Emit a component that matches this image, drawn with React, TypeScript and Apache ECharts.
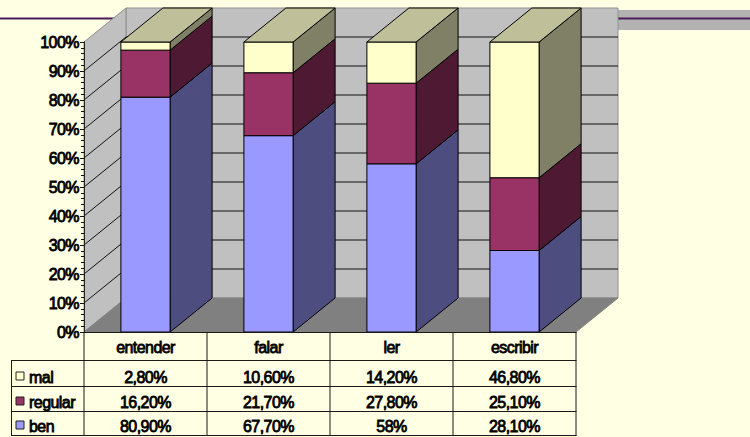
import React, { useEffect, useRef } from "react";
import * as echarts from "echarts";

const categories = ["entender", "falar", "ler", "escribir"];
const seriesNames = ["ben", "regular", "mal"];
const ben = [80.9, 67.7, 58, 28.1];
const regular = [16.2, 21.7, 27.8, 25.1];
const mal = [2.8, 10.6, 14.2, 46.8];
const benLabels = ["80,90%", "67,70%", "58%", "28,10%"];
const regularLabels = ["16,20%", "21,70%", "27,80%", "25,10%"];
const malLabels = ["2,80%", "10,60%", "14,20%", "46,80%"];
const ticks = [0, 10, 20, 30, 40, 50, 60, 70, 80, 90, 100];

const BG = "#ffffe3";
const DX = 42;
const DY = -34;
const FONT = "Liberation Sans, Arial, sans-serif";
const FONT_SIZE = 16;
const HEAVY = 0.8;

const palette = [
  { front: "#9999ff", side: "#4d4d80", top: "#7a7acc" },
  { front: "#993366", side: "#4d1933", top: "#7a2952" },
  { front: "#ffffcc", side: "#808066", top: "#bfbf99" },
];

const rows = [
  { name: "mal", color: palette[2].front, labels: malLabels, y: 377, key: 376 },
  { name: "regular", color: palette[1].front, labels: regularLabels, y: 402, key: 401 },
  { name: "ben", color: palette[0].front, labels: benLabels, y: 426, key: 425 },
];

const GRID = { left: 84, top: 42, width: 492, height: 290 };

function stackedSegments(index: number) {
  const all = [ben, regular, mal];
  return categories.map((_, c) => {
    const total = ben[c] + regular[c] + mal[c];
    let start = 0;
    for (let s = 0; s < index; s++) start += all[s][c];
    return [c, (start / total) * 100, ((start + all[index][c]) / total) * 100];
  });
}

const textBold = { fontFamily: FONT, fontSize: FONT_SIZE, fill: "#000", stroke: "#000", lineWidth: HEAVY };

function buildOption() {
  const wallSeries = {
    type: "custom",
    name: "walls",
    silent: true,
    z: 1,
    coordinateSystem: "cartesian2d",
    data: ticks.map((t) => [0, t]),
    clip: false,
    renderItem: (params: any, api: any) => {
      const tick = api.value(1);
      const [x0, y] = api.coord([0, tick]);
      const size = api.size([1, 0]);
      const left = x0 - size[0] / 2;
      const right = left + size[0] * categories.length;
      const children: any[] = [];
      if (params.dataIndex === 0) {
        const top = api.coord([0, 100])[1];
        const wallStyle = { fill: "#c0c0c0", stroke: "#909090", lineWidth: 1 };
        children.push({
          type: "polygon",
          shape: { points: [[left + DX, y + DY], [right + DX, y + DY], [right + DX, top + DY], [left + DX, top + DY]] },
          style: wallStyle,
        });
        children.push({
          type: "polygon",
          shape: { points: [[left, y], [left + DX, y + DY], [left + DX, top + DY], [left, top]] },
          style: wallStyle,
        });
        children.push({
          type: "polygon",
          shape: { points: [[left, y], [right, y], [right + DX, y + DY], [left + DX, y + DY]] },
          style: { fill: "#808080", stroke: "#808080", lineWidth: 1 },
        });
        return { type: "group", children };
      }
      if (tick < 100) {
        children.push({
          type: "polyline",
          shape: { points: [[left, y], [left + DX, y + DY], [right + DX, y + DY]] },
          style: { fill: "none", stroke: "#111", lineWidth: 1 },
        });
      }
      return { type: "group", children };
    },
  };

  const barSeries = seriesNames.map((name, index) => ({
    type: "custom",
    name,
    z: 2 + index,
    coordinateSystem: "cartesian2d",
    clip: false,
    data: stackedSegments(index),
    renderItem: (_: any, api: any) => {
      const c = api.value(0);
      const [cx, y0] = api.coord([c, api.value(1)]);
      const y1 = api.coord([c, api.value(2)])[1];
      const w = api.size([1, 0])[0] * 0.4;
      const l = cx - w / 2;
      const r = cx + w / 2;
      const line = { stroke: "#000", lineWidth: 1, lineJoin: "round" };
      const colors = palette[index];
      const children: any[] = [
        {
          type: "polygon",
          shape: { points: [[r, y0], [r + DX, y0 + DY], [r + DX, y1 + DY], [r, y1]] },
          style: { fill: colors.side, ...line },
        },
        { type: "rect", shape: { x: l, y: y1, width: w, height: y0 - y1 }, style: { fill: colors.front, ...line } },
      ];
      if (index === seriesNames.length - 1) {
        children.push({
          type: "polygon",
          shape: { points: [[l, y1], [r, y1], [r + DX, y1 + DY], [l + DX, y1 + DY]] },
          style: { fill: colors.top, ...line },
        });
      }
      return { type: "group", children };
    },
  }));

  const cols = [84, 207, 330, 453, 576];
  const tableLines: any[] = [];
  const hLine = (x1: number, x2: number, y: number) =>
    tableLines.push({ type: "line", z: 20, shape: { x1, y1: y, x2, y2: y }, style: { stroke: "#1a1a1a", lineWidth: 1 }, silent: true });
  const vLine = (x: number, y1: number, y2: number) =>
    tableLines.push({ type: "line", z: 20, shape: { x1: x, y1, x2: x, y2 }, style: { stroke: "#1a1a1a", lineWidth: 1 }, silent: true });
  hLine(84, 576.5, 332.5);
  hLine(11, 576.5, 360.5);
  hLine(11, 576.5, 386.5);
  hLine(11, 576.5, 411.5);
  hLine(11, 576.5, 435.5);
  cols.forEach((x) => vLine(x, 332, 436));
  vLine(11.5, 360, 436);

  const tableTexts: any[] = [];
  rows.forEach((row) => {
    tableTexts.push({
      type: "rect", z: 21, silent: true,
      shape: { x: 16, y: row.key - 4, width: 8, height: 8 },
      style: { fill: row.color, stroke: "#222", lineWidth: 1 },
    });
    tableTexts.push({
      type: "text", z: 21, silent: true, x: 29, y: row.y,
      style: { text: row.name, textAlign: "left", textVerticalAlign: "middle", ...textBold },
    });
    row.labels.forEach((label, i) => {
      tableTexts.push({
        type: "text", z: 21, silent: true, x: (cols[i] + cols[i + 1]) / 2, y: row.y,
        style: { text: label, textAlign: "center", textVerticalAlign: "middle", ...textBold },
      });
    });
  });

  const decor: any[] = [
    { type: "rect", z: -2, silent: true, shape: { x: 618, y: 10, width: 132, height: 20 }, style: { fill: "#b2b2b2" } },
    { type: "rect", z: -1, silent: true, shape: { x: 618, y: 17.5, width: 132, height: 2 }, style: { fill: "#4a1a5a" } },
    { type: "rect", z: -1, silent: true, shape: { x: 0, y: 17.5, width: 116, height: 2 }, style: { fill: "#4a1a5a" } },
  ];

  return {
    animation: false,
    backgroundColor: BG,
    grid: { ...GRID, containLabel: false },
    xAxis: {
      type: "category",
      data: categories,
      z: 10,
      axisLine: { show: false },
      axisTick: { show: false },
      axisLabel: {
        margin: 7,
        fontFamily: FONT,
        fontSize: FONT_SIZE,
        color: "#000",
        textBorderColor: "#000",
        textBorderWidth: HEAVY,
      },
    },
    yAxis: {
      type: "value",
      min: 0,
      max: 100,
      interval: 10,
      z: 10,
      splitLine: { show: false },
      axisLine: { show: true, lineStyle: { color: "#222", width: 1 } },
      axisTick: { show: true, length: 4, lineStyle: { color: "#111", width: 1 } },
      minorTick: { show: true, splitNumber: 5, length: 3, lineStyle: { color: "#111", width: 1 } },
      axisLabel: {
        margin: 5,
        padding: [4, 0, 0, 0],
        formatter: "{value}%",
        fontFamily: FONT,
        fontSize: FONT_SIZE,
        color: "#000",
        textBorderColor: "#000",
        textBorderWidth: HEAVY,
      },
    },
    graphic: { elements: [...decor, ...tableLines, ...tableTexts] },
    series: [wallSeries, ...barSeries],
  };
}

export default function App() {
  const ref = useRef<HTMLDivElement>(null);
  useEffect(() => {
    document.body.style.margin = "0";
    document.body.style.background = BG;
    const chart = echarts.init(ref.current!, undefined, { renderer: "svg" });
    chart.setOption(buildOption() as any);
    return () => chart.dispose();
  }, []);
  return (
    <div>
      <style>{"svg text { letter-spacing: -0.55px; }"}</style>
      <div ref={ref} style={{ width: 750, height: 437 }} />
    </div>
  );
}
